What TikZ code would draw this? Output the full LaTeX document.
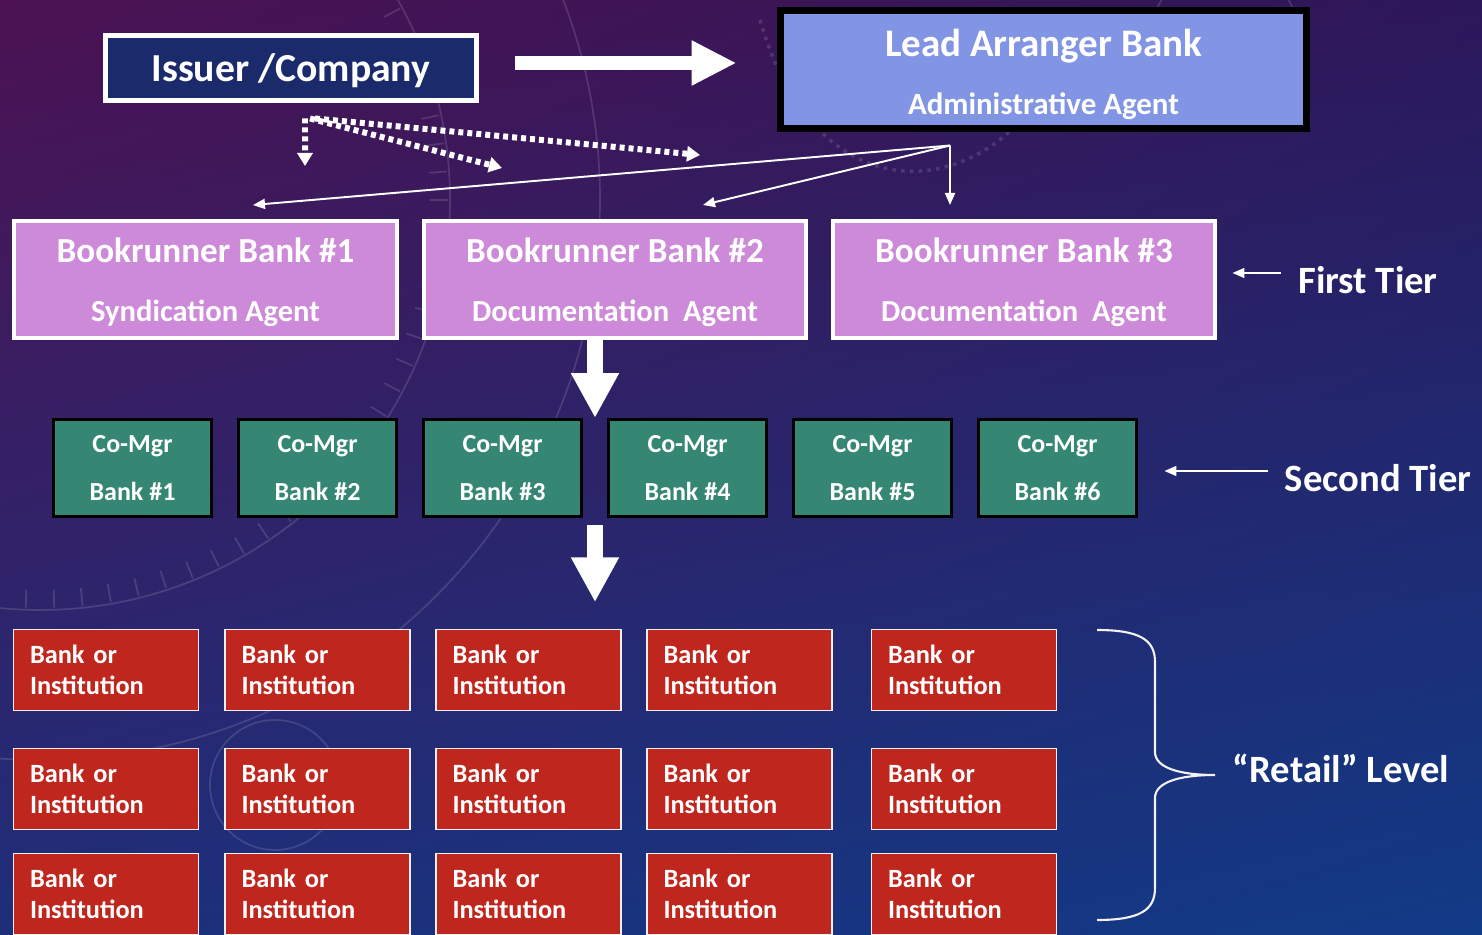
\documentclass[tikz,border=0pt]{standalone}
\usepackage{fontspec}
\setmainfont{Carlito}
\usetikzlibrary{arrows.meta, positioning, calc, shadings}
\definecolor{bgTL}{HTML}{4C1252}
\definecolor{bgTR}{HTML}{2C175A}
\definecolor{bgBL}{HTML}{1E2E7A}
\definecolor{bgBR}{HTML}{123B87}
\definecolor{colorIssuer}{HTML}{1B2A6B}
\definecolor{colorLead}{HTML}{8294E4}
\definecolor{colorBook}{HTML}{CD8AD8}
\definecolor{colorMgr}{HTML}{358673}
\definecolor{colorRetail}{HTML}{BF271E}
\tikzset{
  box/.style={rectangle, inner sep=0pt, text=white, align=center},
  tier/.style={text=white, inner sep=0pt, font=\fontsize{22}{26}\selectfont\bfseries},
}

\begin{document}
\begin{tikzpicture}[x=0.02cm, y=-0.02cm,
  issuerbox/.style={box, draw=white, line width=2.85pt, fill=colorIssuer, minimum width=7.42cm, minimum height=1.3cm, text depth=0pt, font=\fontsize{22.6}{26}\selectfont\bfseries},
  leadbox/.style={box, draw=black, line width=4pt, fill=colorLead, minimum width=10.52cm, minimum height=2.36cm, font=\fontsize{17.6}{33}\selectfont\bfseries},
  bookbox/.style={box, draw=white, line width=2.3pt, fill=colorBook, minimum width=7.66cm, minimum height=2.34cm, font=\fontsize{17.4}{33.2}\selectfont\bfseries},
  mgrbox/.style={box, draw=black, line width=1.7pt, fill=colorMgr, minimum width=3.16cm, minimum height=1.94cm, font=\fontsize{14.8}{27.3}\selectfont\bfseries},
  retailbox/.style={box, draw=white!88!gray, line width=0.85pt, fill=colorRetail, align=left, text width=3.04cm, inner xsep=0.33cm, minimum height=1.62cm, font=\fontsize{15}{17.6}\selectfont\bfseries},
  blockarrow/.style={draw=white, line width=0.28cm, -{Triangle[length=0.9cm, width=0.84cm]}},
  downarrow/.style={draw=white, line width=0.32cm, -{Triangle[length=0.9cm, width=0.9cm]}},
  dotarrow/.style={draw=white, line width=0.12cm, dash pattern=on 0.1cm off 0.08cm, -{Triangle[length=0.26cm, width=0.3cm]}},
  thinarrow/.style={draw=white, line width=1.1pt, -{Triangle[length=0.24cm, width=0.2cm]}},
  tierarrow/.style={draw=white, line width=0.9pt, -{Triangle[length=0.24cm, width=0.2cm]}},
]
\useasboundingbox (0,0) rectangle (1482,935);
\shade[upper left=bgTL, upper right=bgTR, lower left=bgBL, lower right=bgBR] (0,0) rectangle (1482,935);

% faint dial in the background
\begin{scope}
\clip (0,0) rectangle (1482,935);
\begin{scope}[draw=white, opacity=0.13, line width=1pt]
\draw (40,200) circle[radius=410];
\draw (40,200) circle[radius=560];
\foreach \a in {0,4,...,356}
  \draw (40,200) ++(\a:390) -- ++(\a:18);
\draw (1225,40) circle[radius=75];
\draw (275,785) circle[radius=65];
\draw[dash pattern=on 2pt off 3pt, line width=2pt] (760,20) .. controls (820,230) and (1000,200) .. (1060,60);
\end{scope}
\end{scope}

\node[issuerbox] (issuer) at (291,68) {Issuer /Company};
\node[leadbox] (lead) at (1043.5,69.5) {{\fontsize{22.2}{33}\selectfont\rule{0pt}{21.5pt}Lead Arranger Bank}\\Administrative Agent};

\node[bookbox] (br1) at (205.5,279.5) {{\fontsize{20}{33.2}\selectfont\rule{0pt}{17pt}Bookrunner Bank \#1}\\Syndication Agent};
\node[bookbox] (br2) at (615,279.5) {{\fontsize{20}{33.2}\selectfont\rule{0pt}{17pt}Bookrunner Bank \#2}\\Documentation\ \ Agent};
\node[bookbox] (br3) at (1024,279.5) {{\fontsize{20}{33.2}\selectfont\rule{0pt}{17pt}Bookrunner Bank \#3}\\Documentation\ \ Agent};

\foreach \i in {1,...,6}
  \node[mgrbox] (mgr\i) at ({132.5+185*(\i-1)},468) {Co-Mgr\\Bank \#\i};

\foreach \x [count=\c] in {106,317.5,528.5,739.5,964}
  \foreach \y [count=\r] in {670,789,894}
    \node[retailbox] (retail-\r-\c) at (\x,\y) {Bank or\\Institution};

\node[tier] (tier1) at (1368,280) {First Tier};
\node[tier] (tier2) at (1378,478) {Second Tier};
\node[tier] (tier3) at (1341,768) {“Retail” Level};

% issuer to lead arranger
\coordinate (ia) at ([yshift=0.1cm]issuer.east);
\draw[blockarrow, shorten <=0.72cm, shorten >=0.81cm] (ia) -- (ia -| lead.west);

% dotted links from the issuer
\coordinate (src) at ([xshift=0.28cm,yshift=-0.31cm]issuer.south);
\coordinate (d1) at (305,166);
\coordinate (d2) at (502,168);
\coordinate (d3) at (700,155);
\draw[dotarrow] (src) -- (d1);
\draw[dotarrow] ([xshift=0.1cm]src) -- (d2);
\draw[dotarrow] ([xshift=0.2cm]src) -- (d3);

% lead arranger to bookrunners
\coordinate (hub) at ([xshift=-1.87cm,yshift=-0.27cm]lead.south);
\draw[thinarrow] (hub) -- ([xshift=0.95cm,yshift=0.28cm]br1.north);
\draw[thinarrow] (hub) -- ([xshift=1.76cm,yshift=0.28cm]br2.north);
\draw[thinarrow] (hub) -- ([xshift=-1.48cm,yshift=0.28cm]br3.north);

% down the tiers
\coordinate (gap) at ($(mgr3.east)!0.5!(mgr4.west)$);
\draw[downarrow] (gap |- br2.south) -- (gap |- mgr3.north);
\draw[downarrow, shorten <=0.15cm, shorten >=0.53cm] (gap |- mgr3.south) -- (gap |- retail-1-3.north);

% tier labels
\coordinate (t1) at ([shift={(-0.34cm,0.14cm)}]tier1.west);
\coordinate (t2) at ([shift={(-0.32cm,0.14cm)}]tier2.west);
\draw[tierarrow, shorten >=0.3cm] (t1) -- (t1 -| br3.east);
\draw[tierarrow, shorten >=0.53cm] (t2) -- (t2 -| mgr6.east);

\draw[white!90!gray, line width=1.2pt] (1097,630) .. controls (1140,630) and (1155,640) .. (1155,662) -- (1155,752)
  .. controls (1155,768) and (1180,775) .. (1215,775) .. controls (1180,775) and (1155,782) .. (1155,798)
  -- (1155,888) .. controls (1155,910) and (1140,920) .. (1097,920);
\end{tikzpicture}
\end{document}
